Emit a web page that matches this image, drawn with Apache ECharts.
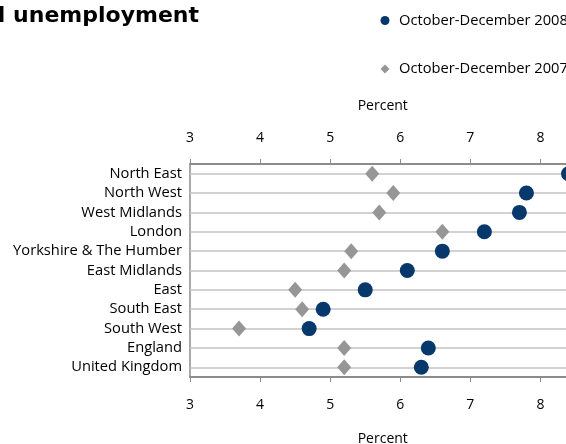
<!DOCTYPE html>
<html>
<head>
<meta charset="utf-8">
<script src="https://cdn.jsdelivr.net/npm/echarts@6/dist/echarts.min.js"></script>
<style>
  html, body { margin: 0; padding: 0; overflow: hidden; background: #fff; }
  #chart { width: 600px; height: 444px; }
</style>
</head>
<body>
<div id="chart"></div>
<script>
// Regional unemployment rates (percent), two comparison quarters
const regions = ['North East', 'North West', 'West Midlands', 'London', 'Yorkshire & The Humber',
  'East Midlands', 'East', 'South East', 'South West', 'England', 'United Kingdom'];
const octDec2008 = [8.4, 7.8, 7.7, 7.2, 6.6, 6.1, 5.5, 4.9, 4.7, 6.4, 6.3];
const octDec2007 = [5.6, 5.9, 5.7, 6.6, 5.3, 5.2, 4.5, 4.6, 3.7, 5.2, 5.2];
const seriesNames = ['October-December 2008', 'October-December 2007'];
const axisTitle = 'Percent';
const titleText = 'Regional unemployment';

const FONT = 'Open Sans';
const NAVY = '#06386c';
const GREY = '#969696';

const chart = echarts.init(document.getElementById('chart'), null, { renderer: 'canvas' });

const valueAxis = (position) => ({
  type: 'value',
  position: position,
  min: 3,
  max: 8.5,
  interval: 1,
  name: axisTitle,
  nameLocation: 'middle',
  nameGap: position === 'top' ? 51 : 55,
  nameTextStyle: { fontFamily: FONT, fontSize: 14, color: '#000' },
  axisLine: { show: true, lineStyle: { color: '#8c8c8c', width: 2 } },
  axisTick: { show: true, inside: false, length: 5, lineStyle: { color: '#8c8c8c', width: 1 } },
  axisLabel: {
    show: true, margin: position === 'top' ? 19 : 21, showMaxLabel: false,
    fontFamily: FONT, fontSize: 14, color: '#000'
  },
  splitLine: { show: false }
});

chart.setOption({
  animation: false,
  title: {
    text: titleText,
    left: 194,
    top: 0,
    textAlign: 'right',
    textStyle: { fontFamily: 'DejaVu Sans', fontWeight: 'bold', fontSize: 22, color: '#000' }
  },
  legend: {
    orient: 'vertical',
    left: 375.5,
    top: 8,
    itemWidth: 9,
    itemHeight: 9,
    itemGap: 33.5,
    textStyle: { fontFamily: FONT, fontSize: 14.7, color: '#000', padding: [0, 0, 0, 4.5] },
    data: [
      { name: seriesNames[0], icon: 'circle' },
      { name: seriesNames[1], icon: 'diamond' }
    ]
  },
  grid: { left: 190, top: 164, width: 385.5, height: 213, containLabel: false, outerBoundsMode: 'none' },
  xAxis: [valueAxis('bottom'), valueAxis('top')],
  yAxis: {
    type: 'category',
    data: regions,
    inverse: true,
    axisLine: { show: true, lineStyle: { color: '#8c8c8c', width: 1.5 } },
    // category guide lines run through each row's centre
    axisTick: { show: true, alignWithLabel: true, interval: 0, inside: true, length: 420, lineStyle: { color: '#c4c4c4', width: 1.5 } },
    axisLabel: { interval: 0, margin: 8, fontFamily: FONT, fontSize: 14.7, color: '#000' },
    splitLine: { show: false }
  },
  series: [
    {
      name: seriesNames[0],
      type: 'scatter',
      xAxisIndex: 0,
      symbol: 'circle',
      symbolSize: 15,
      itemStyle: { color: NAVY, opacity: 1 },
      z: 4,
      data: octDec2008.map((v, i) => [v, regions[i]])
    },
    {
      name: seriesNames[1],
      type: 'scatter',
      xAxisIndex: 0,
      symbol: 'diamond',
      symbolSize: [14, 16],
      itemStyle: { color: GREY, opacity: 1 },
      z: 3,
      data: octDec2007.map((v, i) => [v, regions[i]])
    }
  ]
});
</script>
</body>
</html>
